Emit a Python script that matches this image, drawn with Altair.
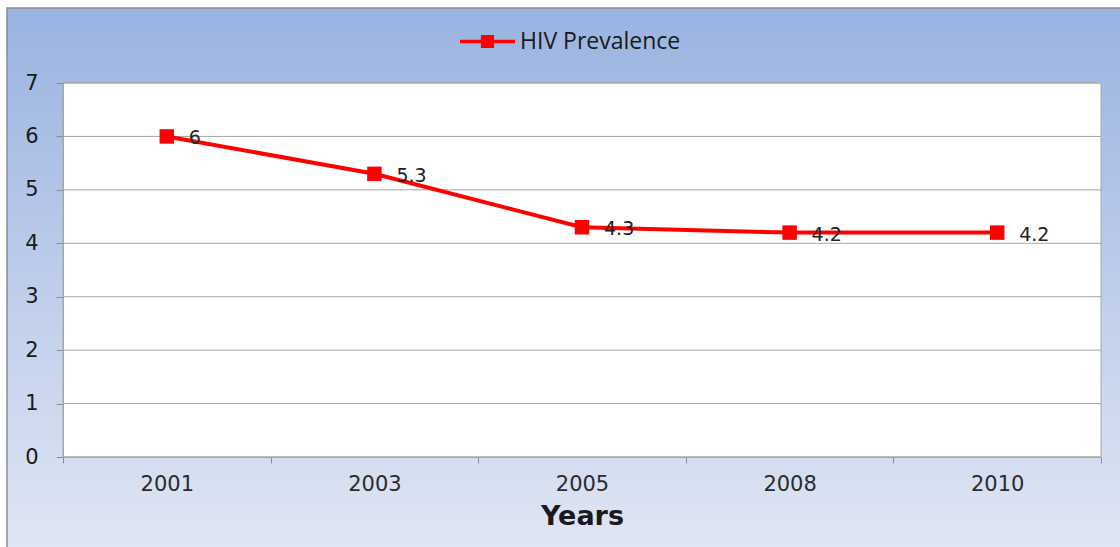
import altair as alt
import pandas as pd

years = ["2001", "2003", "2005", "2008", "2010"]
prevalence = [6, 5.3, 4.3, 4.2, 4.2]
value_labels = ["6", "5.3", "4.3", "4.2", "4.2"]
series_name = "HIV Prevalence"
y_ticks = [0, 1, 2, 3, 4, 5, 6, 7]

df = pd.DataFrame({
    "year": years,
    "value": prevalence,
    "label": value_labels,
    "series": [series_name] * len(years),
})
grid_df = pd.DataFrame({"value": y_ticks})
one = pd.DataFrame({"a": [0]})

W, H = 1038, 374

xenc = alt.X("year:O", sort=years,
             scale=alt.Scale(type="band", paddingInner=0, paddingOuter=0),
             axis=alt.Axis(title="Years", labelAngle=0, tickBand="extent", zindex=1,
                           tickSize=6, tickColor="#8c8c8c", domainColor="#a6a6a6",
                           labelFont="DejaVu Sans", labelFontSize=21, labelColor="#2b2b2b",
                           labelPadding=10, titleFont="DejaVu Sans", titleFontSize=27,
                           titleFontWeight="bold", titleColor="#1a1a1a",
                           titleBaseline="alphabetic", titleY=67))
yscale = alt.Scale(domain=[0, 7], nice=False, zero=True)
yaxis = alt.Axis(title=None, values=y_ticks, format="d", grid=False, tickSize=7, zindex=1,
                 tickColor="#8c8c8c", domainColor="#a6a6a6",
                 labelFont="DejaVu Sans", labelFontSize=21, labelColor="#1a1a1a",
                 labelPadding=18)
yenc = alt.Y("value:Q", scale=yscale, axis=yaxis)

bg = alt.Chart(one).mark_rect(
    color=alt.LinearGradient(gradient="linear",
                             stops=[alt.GradientStop(color="#9ab3e1", offset=0),
                                    alt.GradientStop(color="#c2d0ec", offset=0.55),
                                    alt.GradientStop(color="#e1e7f4", offset=1)],
                             x1=0, x2=0, y1=0, y2=1),
    stroke="#8c8c8c", strokeWidth=1.5, clip=False
).encode(x=alt.value(-56), x2=alt.value(1070), y=alt.value(-75), y2=alt.value(480))

plot_bg = alt.Chart(one).mark_rect(color="white", stroke="#a6a6a6", strokeWidth=1).encode(
    x=alt.value(0), x2=alt.value(W), y=alt.value(0), y2=alt.value(H))

grid = alt.Chart(grid_df).mark_rule(color="#a6a6a6", strokeWidth=1).encode(y=yenc)

line = alt.Chart(df).mark_line(color="#ff0000", strokeWidth=4).encode(x=xenc, y=yenc)

symbol_path = "M-1,-0.065H1V0.065H-1Z M-0.24,-0.24H0.24V0.24H-0.24Z"
points = alt.Chart(df).mark_square(size=210, opacity=1, filled=True).encode(
    x=alt.X("year:O", sort=years), y=alt.Y("value:Q"),
    color=alt.Color("series:N", scale=alt.Scale(domain=[series_name], range=["#ff0000"]),
                    legend=alt.Legend(orient="none", legendX=397, legendY=-69, title=None,
                                      symbolType=symbol_path, symbolSize=3025,
                                      symbolFillColor="#ff0000", symbolStrokeColor="#ff0000",
                                      symbolStrokeWidth=0, symbolOpacity=1,
                                      labelFont="Open Sans", labelFontSize=23, labelLimit=400,
                                      labelColor="#1a1a1a", labelOffset=5, padding=0)))

labels = alt.Chart(df).mark_text(align="left", baseline="middle", dx=22, dy=2,
                                 fontSize=19, font="DejaVu Sans", color="#222222").encode(
    x=alt.X("year:O", sort=years), y=alt.Y("value:Q"), text="label:N")

chart = alt.layer(bg, plot_bg, grid, line, points, labels).properties(
    width=W, height=H,
    autosize=alt.AutoSizeParams(type="none"),
    padding={"left": 63, "top": 83, "right": 19, "bottom": 90},
).configure_view(stroke=None, fill=None).configure(background="white")

chart.save("out.html", embed_options={"renderer": "svg", "actions": False})
